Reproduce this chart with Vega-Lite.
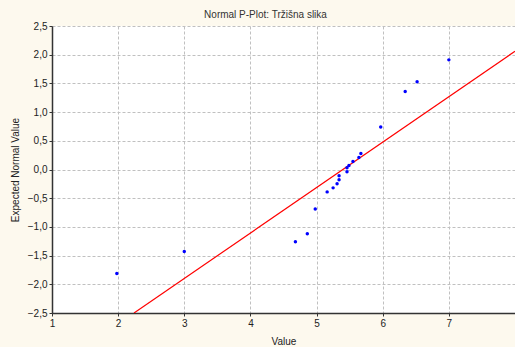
{
  "$schema": "https://vega.github.io/schema/vega-lite/v6.json",
  "autosize": "none",
  "width": 463,
  "height": 287,
  "padding": {"left": 52, "top": 26, "right": 0, "bottom": 34},
  "background": "#fdf9ee",
  "title": {"text": "Normal P-Plot: Tržišna slika", "fontSize": 10, "font": "Liberation Sans", "fontWeight": "normal", "color": "#333333", "offset": 1, "dx": -18, "anchor": "middle"},
  "config": {
    "view": {"fill": "#ffffff", "stroke": null},
    "axis": {"labelFont": "Liberation Sans", "titleFont": "Liberation Sans", "labelFontSize": 10, "titleFontSize": 10, "titleFontWeight": "normal", "labelColor": "#222222", "titleColor": "#222222", "domainColor": "#333333", "domainWidth": 1.5, "tickColor": "#333333", "tickSize": 3, "gridColor": "#c0c0c0", "gridDash": [3, 2], "gridWidth": 1}
  },
  "datasets": {
    "points": [
      {"value": 1.98, "expected": -1.81},
      {"value": 3.0, "expected": -1.43},
      {"value": 4.68, "expected": -1.26},
      {"value": 4.86, "expected": -1.12},
      {"value": 4.98, "expected": -0.69},
      {"value": 5.16, "expected": -0.39},
      {"value": 5.25, "expected": -0.32},
      {"value": 5.31, "expected": -0.25},
      {"value": 5.34, "expected": -0.18},
      {"value": 5.34, "expected": -0.11},
      {"value": 5.46, "expected": -0.04},
      {"value": 5.46, "expected": 0.03},
      {"value": 5.49, "expected": 0.07},
      {"value": 5.55, "expected": 0.14},
      {"value": 5.64, "expected": 0.21},
      {"value": 5.67, "expected": 0.28},
      {"value": 5.97, "expected": 0.74},
      {"value": 6.34, "expected": 1.36},
      {"value": 6.52, "expected": 1.53},
      {"value": 7.0, "expected": 1.91}
    ],
    "line": [
      {"value": 2.24, "expected": -2.5},
      {"value": 8.0, "expected": 2.06}
    ]
  },
  "layer": [
    {
      "data": {"name": "line"},
      "mark": {"type": "line", "color": "#ff0000", "strokeWidth": 1.2, "clip": true},
      "encoding": {
        "x": {"field": "value", "type": "quantitative", "scale": {"domain": [1, 8], "nice": false}, "axis": {"title": "Value", "values": [1, 2, 3, 4, 5, 6, 7], "tickCount": 20, "format": "d", "labelFlush": false, "labelOverlap": false, "titlePadding": 8}},
        "y": {"field": "expected", "type": "quantitative", "scale": {"domain": [-2.5, 2.5], "nice": false}, "axis": {"title": "Expected Normal Value", "values": [-2.5, -2, -1.5, -1, -0.5, 0, 0.5, 1, 1.5, 2, 2.5], "tickCount": 20, "labelExpr": "replace(format(datum.value, '.1f'), '.', ',')", "labelFlush": false, "labelOverlap": false, "titlePadding": 7}}
      }
    },
    {
      "data": {"name": "points"},
      "mark": {"type": "circle", "size": 12, "color": "#0000ff", "opacity": 1},
      "encoding": {
        "x": {"field": "value", "type": "quantitative"},
        "y": {"field": "expected", "type": "quantitative"}
      }
    }
  ]
}
